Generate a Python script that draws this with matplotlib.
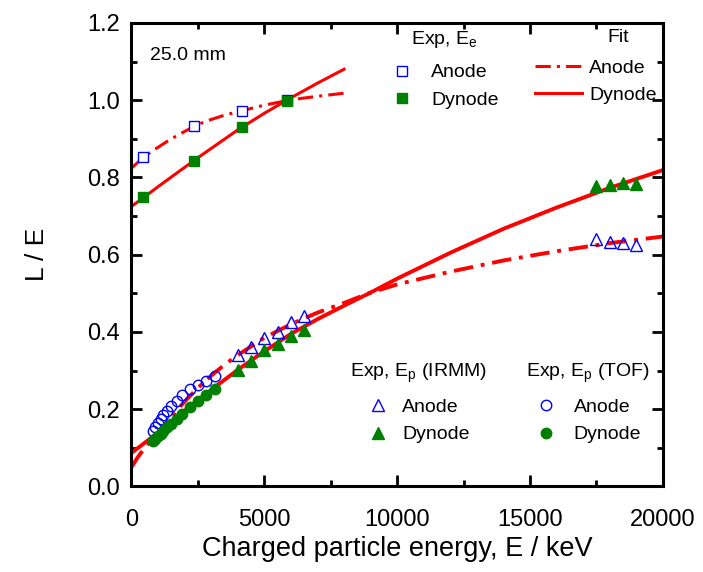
import numpy as np
import matplotlib.pyplot as plt
from matplotlib.ticker import MultipleLocator, FormatStrFormatter

plt.rcParams['font.family'] = ['Liberation Sans', 'DejaVu Sans']
plt.rcParams['mathtext.fontset'] = 'custom'
plt.rcParams['mathtext.rm'] = 'Liberation Sans'
plt.rcParams['mathtext.it'] = 'Liberation Sans:italic'

# electron measurements (E_e)
ee_x = [450, 2350, 4170, 5840]
ee_anode = [0.852, 0.934, 0.973, 1.0]
ee_dynode = [0.75, 0.843, 0.931, 0.999]

# proton measurements, IRMM
irmm_x = [4000, 4500, 5000, 5500, 6000, 6500, 17500, 18000, 18500, 19000]
irmm_anode = [0.340, 0.362, 0.385, 0.401, 0.427, 0.441, 0.641, 0.634, 0.630, 0.625]
irmm_dynode = [0.302, 0.325, 0.353, 0.368, 0.390, 0.405, 0.778, 0.780, 0.785, 0.782]

# proton measurements, TOF
tof_x = [800, 900, 1000, 1100, 1200, 1350, 1500, 1700, 1900, 2200, 2500, 2800, 3150]
tof_anode = [0.144, 0.155, 0.165, 0.175, 0.185, 0.196, 0.209, 0.222, 0.237, 0.252, 0.262, 0.272, 0.286]
tof_dynode = [0.118, 0.124, 0.131, 0.137, 0.144, 0.153, 0.163, 0.175, 0.188, 0.207, 0.221, 0.237, 0.252]

# fitted curves, electrons
fit_e_x = [0, 500, 1000, 1500, 2000, 2500, 3000, 3500, 4000, 5000, 6000, 7000, 8000]
fit_e_anode = [0.824, 0.855, 0.878, 0.900, 0.919, 0.937, 0.950, 0.961, 0.970, 0.987, 1.001, 1.010, 1.018]
fit_e_dynode = [0.725, 0.750, 0.776, 0.801, 0.826, 0.851, 0.875, 0.899, 0.923, 0.966, 1.006, 1.044, 1.080]

# fitted curves, protons
fit_p_x = [0, 250, 500, 1000, 1500, 2000, 2500, 3000, 3500, 4000, 5000, 6000, 7000,
           8000, 9000, 10000, 12000, 14000, 16000, 18000, 20000]
fit_p_anode = [0.050, 0.077, 0.100, 0.140, 0.180, 0.220, 0.255, 0.287, 0.315, 0.340, 0.385,
               0.420, 0.450, 0.475, 0.502, 0.523, 0.556, 0.585, 0.609, 0.630, 0.647]
fit_p_dynode = [0.087, 0.100, 0.113, 0.140, 0.168, 0.196, 0.223, 0.250, 0.276, 0.302, 0.350,
                0.395, 0.433, 0.468, 0.502, 0.538, 0.605, 0.667, 0.722, 0.773, 0.819]

red = '#ff0000'
blue = '#0000ff'
green = '#008000'
dashdot = (0, (5, 2, 1, 2))

fig, ax = plt.subplots(figsize=(7.03, 5.72), dpi=100)
fig.subplots_adjust(left=0.187, right=0.943, top=0.960, bottom=0.1495)

ax.plot(fit_e_x, fit_e_anode, color=red, lw=2.2, linestyle=dashdot)
ax.plot(fit_e_x, fit_e_dynode, color=red, lw=2.2)
ax.plot(fit_p_x, fit_p_anode, color=red, lw=2.8, linestyle=dashdot)
ax.plot(fit_p_x, fit_p_dynode, color=red, lw=2.8)

ax.plot(ee_x, ee_anode, 's', ms=7, mfc='white', mec=blue, mew=1.0, zorder=3)
ax.plot(ee_x, ee_dynode, 's', ms=7, color=green, zorder=3)
ax.plot(irmm_x, irmm_anode, '^', ms=9, mfc='none', mec=blue, mew=1.0, zorder=3)
ax.plot(irmm_x, irmm_dynode, '^', ms=9, color=green, zorder=3)
ax.plot(tof_x, tof_anode, 'o', ms=7.5, mfc='none', mec=blue, mew=1.0, zorder=3)
ax.plot(tof_x, tof_dynode, 'o', ms=7.5, color=green, zorder=3)

ax.set_xlim(0, 20000)
ax.set_ylim(0, 1.2)
ax.xaxis.set_major_locator(MultipleLocator(5000))
ax.xaxis.set_minor_locator(MultipleLocator(2500))
ax.yaxis.set_major_locator(MultipleLocator(0.2))
ax.yaxis.set_minor_locator(MultipleLocator(0.1))
ax.yaxis.set_major_formatter(FormatStrFormatter('%.1f'))
ax.tick_params(which='both', direction='in', top=True, right=True, width=2, labelsize=17)
ax.tick_params(which='major', length=8)
ax.tick_params(axis='x', which='major', pad=16)
ax.tick_params(axis='y', which='major', pad=8)
ax.tick_params(which='minor', length=4)
for s in ax.spines.values():
    s.set_linewidth(2.2)

ax.set_xlabel('Charged particle energy, E / keV', fontsize=19.5, labelpad=4)
ax.set_ylabel('L / E', fontsize=19, labelpad=28)

ax.text(0.035, 0.930, '25.0 mm', transform=ax.transAxes, fontsize=14, va='center')
ax.text(0.9155, 0.968, 'Fit', transform=ax.transAxes, fontsize=14, va='center', ha='center')

leg_kw = dict(frameon=False, fontsize=14, title_fontsize=14,
              labelspacing=0.5, borderaxespad=0, borderpad=0)

h1, = ax.plot([], [], 's', ms=7, mfc='white', mec=blue, mew=1.0)
h2, = ax.plot([], [], 's', ms=7, color=green)
leg1 = ax.legend([h1, h2], ['Anode', 'Dynode'], title='Exp, E$_\\mathrm{e}$',
                 loc='upper left', bbox_to_anchor=(0.487, 0.987), handlelength=1.2,
                 handletextpad=0.9, **leg_kw)
leg1._legend_box.sep = 10
ax.add_artist(leg1)

h3, = ax.plot([], [], color=red, lw=2.2, linestyle=dashdot)
h4, = ax.plot([], [], color=red, lw=2.2)
leg2 = ax.legend([h3, h4], ['Anode', 'Dynode'],
                 loc='upper left', bbox_to_anchor=(0.759, 0.922), handlelength=2.4,
                 handletextpad=0.4, **leg_kw)
ax.add_artist(leg2)

h5, = ax.plot([], [], '^', ms=9, mfc='none', mec=blue, mew=1.0)
h6, = ax.plot([], [], '^', ms=9, color=green)
leg3 = ax.legend([h5, h6], ['Anode', 'Dynode'], title='Exp, E$_\\mathrm{p}$ (IRMM)',
                 loc='upper left', bbox_to_anchor=(0.411, 0.270), handlelength=1.2,
                 handletextpad=0.63, **leg_kw)
leg3._legend_box.sep = 10
ax.add_artist(leg3)

h7, = ax.plot([], [], 'o', ms=7.5, mfc='none', mec=blue, mew=1.0)
h8, = ax.plot([], [], 'o', ms=7.5, color=green)
leg4 = ax.legend([h7, h8], ['Anode', 'Dynode'], title='Exp, E$_\\mathrm{p}$ (TOF)',
                 loc='upper left', bbox_to_anchor=(0.742, 0.270), handlelength=1.2,
                 handletextpad=0.84, **leg_kw)
leg4._legend_box.sep = 10

plt.savefig('out.png', dpi=100)
